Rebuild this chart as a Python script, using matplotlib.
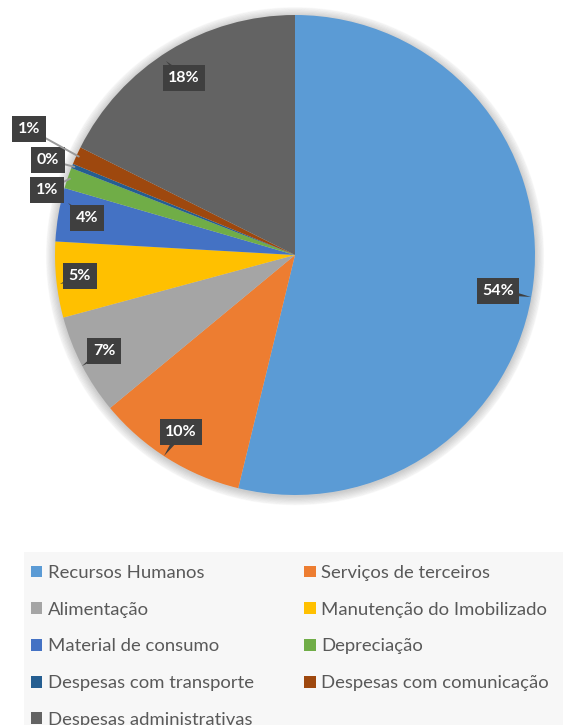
import matplotlib
matplotlib.use("Agg")
import matplotlib.pyplot as plt
from matplotlib.patches import Rectangle, Circle, Patch
import numpy as np

categories = ["Recursos Humanos", "Serviços de terceiros", "Alimentação",
              "Manutenção do Imobilizado", "Material de consumo", "Depreciação",
              "Despesas com transporte", "Despesas com comunicação",
              "Despesas administrativas"]
values = [53.8, 10.2, 6.8, 5.1, 3.6, 1.4, 0.3, 1.2, 17.6]
labels = ["54%", "10%", "7%", "5%", "4%", "1%", "0%", "1%", "18%"]
colors = ["#5B9BD5", "#ED7D31", "#A5A5A5", "#FFC000", "#4472C4", "#70AD47",
          "#255E91", "#9E480E", "#636363"]

W, H = 568, 725
fig = plt.figure(figsize=(W / 100, H / 100), dpi=100)
fig.patch.set_facecolor("white")

cx, cy, R = 295, 255, 240
ax = fig.add_axes([(cx - R) / W, 1 - (cy + R) / H, 2 * R / W, 2 * R / H])

# soft shadow
for i, r in enumerate(np.linspace(1.035, 1.0, 8)):
    ax.add_patch(Circle((0.0, -0.005), r, color="black", alpha=0.025,
                        clip_on=False, zorder=0))

wedges, _ = ax.pie(values, colors=colors, startangle=90, counterclock=False,
                   radius=1.0, wedgeprops=dict(linewidth=0), normalize=True)
ax.set_xlim(-1, 1)
ax.set_ylim(-1, 1)
ax.set_aspect("equal")
ax.axis("off")

def px(p):
    return ((p[0] - cx) / R, (cy - p[1]) / R)

# label box centers and pointer tips (pixel coords)
label_pos = [(498, 291), (181, 432), (104, 351), (80, 276), (87, 218),
             (47, 190), (48, 160), (29, 129), (184, 78)]
tips = [(531, 297), (164, 456), (82, 366), (60, 284), (68, 203),
        None, None, None, (166, 61)]

cum = np.cumsum([0] + values)
total = cum[-1]

box = dict(boxstyle="square,pad=0.35", fc="#3F3F3F", ec="none")
for i, lab in enumerate(labels):
    xt, yt = px(label_pos[i])
    if tips[i] is not None:
        xa, ya = px(tips[i])
        arrow = dict(arrowstyle="wedge,tail_width=0.5,shrink_factor=0.5",
                     fc="#3F3F3F", ec="none", patchA=None, shrinkA=0, shrinkB=0)
    else:
        mid = (cum[i] + cum[i + 1]) / 2 / total
        ang = np.deg2rad(90 - 360 * mid)
        xa, ya = 0.99 * np.cos(ang), 0.99 * np.sin(ang)
        arrow = dict(arrowstyle="-", color="#9A9A9A", lw=1.4, shrinkA=0, shrinkB=0)
    ax.annotate(lab, xy=(xa, ya), xytext=(xt, yt), ha="center", va="center",
                fontsize=11.5, fontweight="bold", color="white",
                family=["Lato", "DejaVu Sans"], bbox=box, arrowprops=arrow,
                annotation_clip=False, zorder=5)

# legend background
fig.patches.append(Rectangle((24 / W, 0), (563 - 24) / W, (H - 552) / H,
                             transform=fig.transFigure, fc="#F7F7F7", ec="none",
                             zorder=0))

order = [0, 2, 4, 6, 8, 1, 3, 5, 7]
handles = [Patch(facecolor=colors[i], edgecolor="none") for i in order]
leg = fig.legend(handles, [categories[i] for i in order], ncol=2,
                 loc="upper left", bbox_to_anchor=(31 / W, 1 - 565 / H),
                 frameon=False, prop=dict(family="Lato", size=13.3),
                 handlelength=0.62, handleheight=0.62, handletextpad=0.3,
                 columnspacing=2.72, labelspacing=1.12, borderaxespad=0,
                 borderpad=0)
for t in leg.get_texts():
    t.set_color("#595959")

fig.savefig("out.png", dpi=100, facecolor="white")
